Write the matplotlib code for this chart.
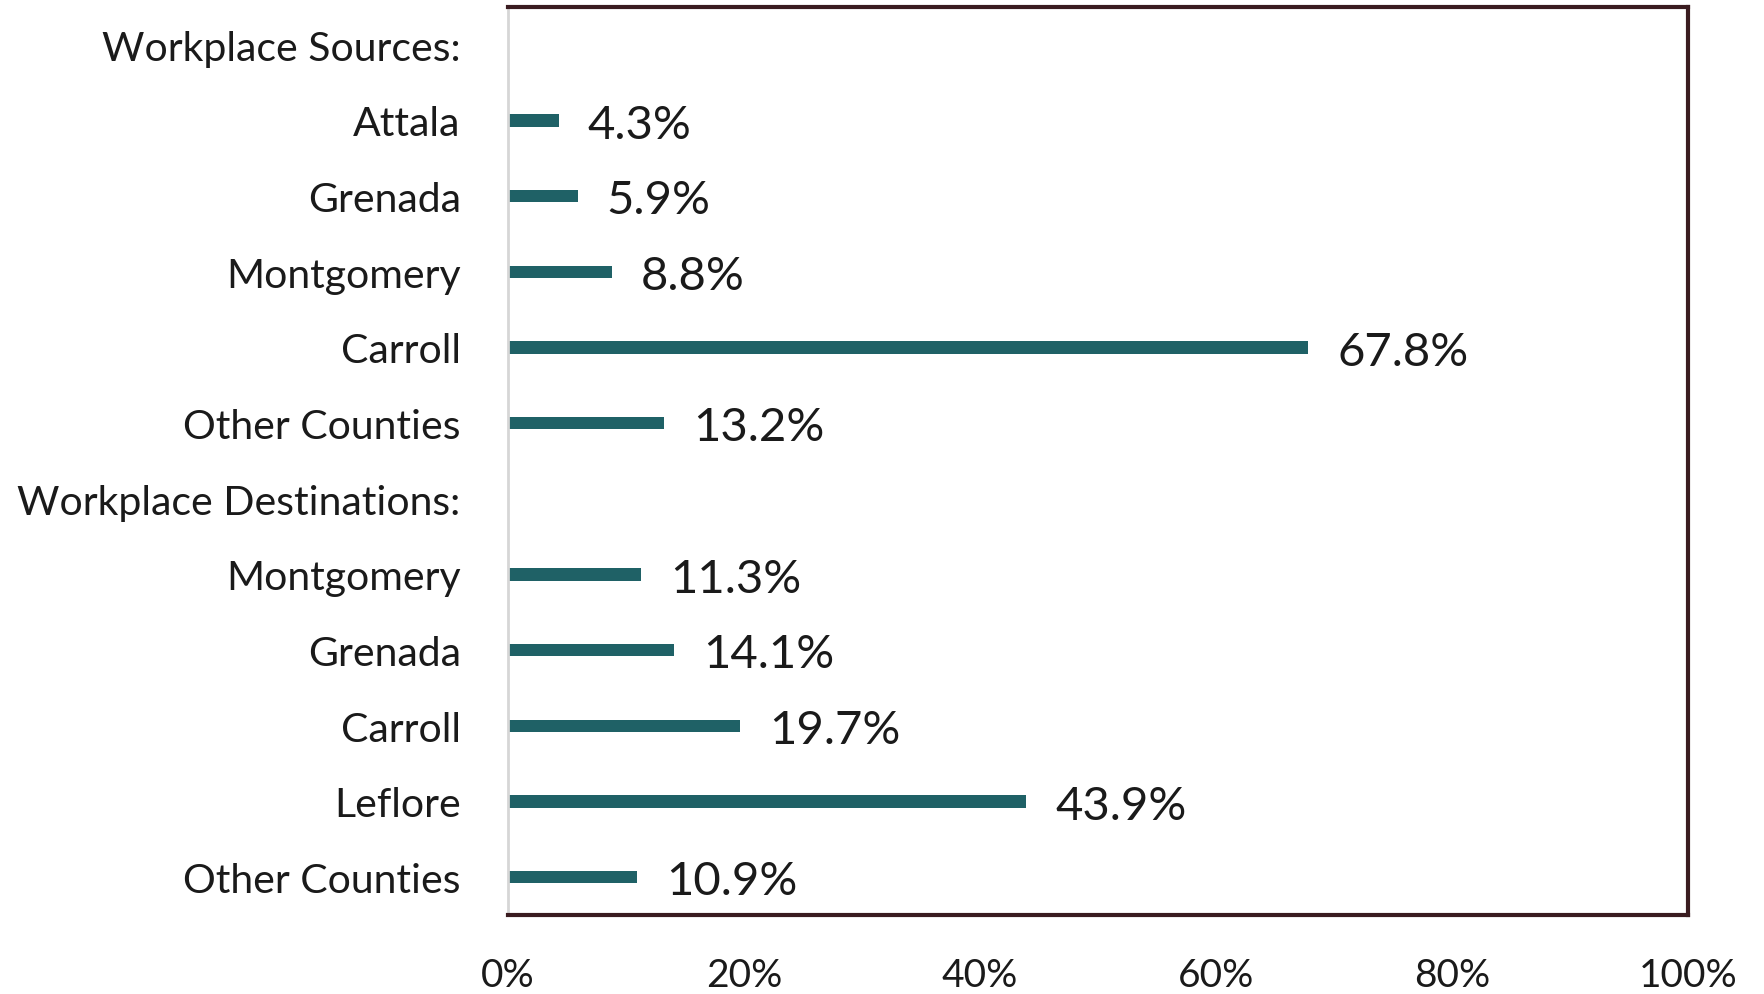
import matplotlib
matplotlib.use("Agg")
import matplotlib.pyplot as plt

# Chart data
categories = ["Workplace Sources:", "Attala", "Grenada", "Montgomery", "Carroll", "Other Counties",
              "Workplace Destinations:", "Montgomery", "Grenada", "Carroll", "Leflore", "Other Counties"]
shares = [None, 4.3, 5.9, 8.8, 67.8, 13.2, None, 11.3, 14.1, 19.7, 43.9, 10.9]
tick_values = [0, 20, 40, 60, 80, 100]
tick_labels = ["0%", "20%", "40%", "60%", "80%", "100%"]

plt.rcParams['font.family'] = ['Lato', 'DejaVu Sans']

fig = plt.figure(figsize=(17.65, 9.95), dpi=100)
ax = fig.add_axes([0.2878, 0.0794, 0.6686, 0.9126])

bar_color = "#1f6166"
positions = list(range(len(categories)))
for pos, val in zip(positions, shares):
    if val is None:
        continue
    ax.barh(pos, val, height=0.16, color=bar_color)
    ax.annotate(f"{val}%", xy=(val, pos), xytext=(21, -3), textcoords="offset points",
                ha="left", va="center", fontsize=34, color="#1a1a1a")

ax.set_ylim(len(categories) - 0.5, -0.5)
ax.set_xlim(0, 100)
ax.set_yticks(positions)
ax.set_yticklabels(categories, fontsize=29.5, color="#1a1a1a")
ax.set_xticks(tick_values)
ax.set_xticklabels(tick_labels, fontsize=28, color="#1a1a1a")
ax.tick_params(axis="y", length=0, pad=34)
ax.tick_params(axis="x", length=0, pad=30)

# Spines: light left axis, dark frame elsewhere
ax.spines["left"].set_color("#d6d6d6")
ax.spines["left"].set_linewidth(2)
for side in ["top", "right", "bottom"]:
    ax.spines[side].set_color("#3a1c20")
    ax.spines[side].set_linewidth(3)

fig.savefig("out.png", dpi=100)
